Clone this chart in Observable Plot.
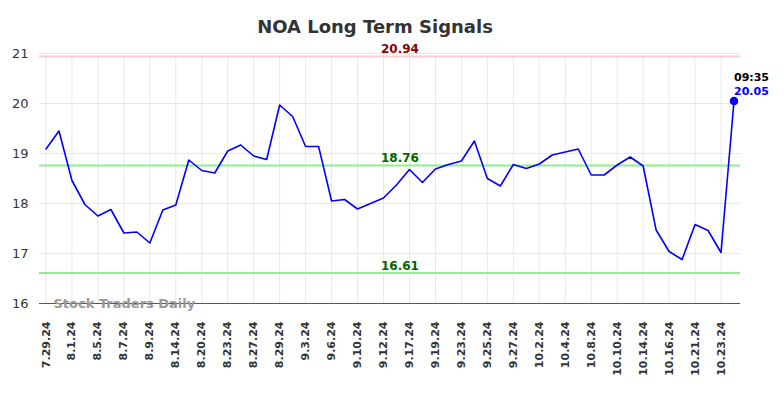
<!DOCTYPE html>
<html>
<head>
<meta charset="utf-8">
<script src="https://cdn.jsdelivr.net/npm/d3@7"></script>
<script src="https://cdn.jsdelivr.net/npm/@observablehq/plot@0.6"></script>
<style>
  html, body { margin: 0; padding: 0; background: #fff; }
  svg { font-family: "DejaVu Sans", sans-serif; }
</style>
</head>
<body>
<div id="chart"></div>
<script>
const dates = [
  "7.29.24","7.31.24","8.1.24","8.2.24","8.5.24","8.6.24","8.7.24","8.8.24","8.9.24","8.12.24",
  "8.14.24","8.16.24","8.20.24","8.22.24","8.23.24","8.26.24","8.27.24","8.28.24","8.29.24","8.30.24",
  "9.3.24","9.5.24","9.6.24","9.9.24","9.10.24","9.11.24","9.12.24","9.16.24","9.17.24","9.18.24",
  "9.19.24","9.20.24","9.23.24","9.24.24","9.25.24","9.26.24","9.27.24","10.1.24","10.2.24","10.3.24",
  "10.4.24","10.7.24","10.8.24","10.9.24","10.10.24","10.11.24","10.14.24","10.15.24","10.16.24","10.18.24",
  "10.21.24","10.22.24","10.23.24","10.24.24"
];
const prices = [
  19.09,19.45,18.46,17.98,17.75,17.88,17.41,17.43,17.21,17.87,
  17.97,18.87,18.66,18.61,19.05,19.17,18.95,18.88,19.97,19.74,
  19.14,19.14,18.05,18.08,17.89,18.00,18.11,18.37,18.68,18.42,
  18.69,18.78,18.85,19.25,18.50,18.35,18.78,18.70,18.79,18.97,
  19.03,19.09,18.57,18.57,18.77,18.93,18.75,17.47,17.04,16.88,
  17.58,17.46,17.02,20.05
];
const tickLabels = dates.filter((d, i) => i % 2 === 0);
const yTicks = [16, 17, 18, 19, 20, 21];
const levelValues = [20.94, 18.76, 16.61];
const levelLineColors = ["#ffcccc", "#90ee90", "#90ee90"];
const levelTextColors = ["#8b0000", "#006400", "#006400"];
const lastTime = "09:35";
const title = "NOA Long Term Signals";
const watermark = "Stock Traders Daily";

const series = dates.map((d, i) => ({date: d, price: prices[i]}));
const levels = levelValues.map((v, i) => ({v, line: levelLineColors[i], text: levelTextColors[i]}));
const last = series[series.length - 1];

const chart = Plot.plot({
  width: 784,
  height: 398,
  marginLeft: 39,
  marginRight: 44,
  marginTop: 53,
  marginBottom: 95,
  style: {fontFamily: "DejaVu Sans, sans-serif", background: "#fff"},
  x: {type: "point", domain: dates, padding: 0.5, label: null},
  y: {domain: [16, 21], label: null},
  marks: [
    Plot.ruleX(tickLabels, {x: d => d, stroke: "#e8e8e8", strokeWidth: 1}),
    Plot.ruleY(yTicks, {y: d => d, stroke: "#e8e8e8", strokeWidth: 1}),
    Plot.ruleY(levels, {y: "v", stroke: "line", strokeWidth: 2}),
    Plot.ruleY([16], {stroke: "#555", strokeWidth: 1}),
    Plot.text(levels, {y: "v", frameAnchor: "middle", dx: 10, dy: -7, text: d => d.v.toFixed(2), fill: "text", fontWeight: "bold", fontSize: 12}),
    Plot.lineY(series, {x: "date", y: "price", stroke: "#0000ff", strokeWidth: 1.6}),
    Plot.dot([last], {x: "date", y: "price", r: 3.5, fill: "#0000ff", stroke: "#0000ff"}),
    Plot.text([last], {x: "date", y: "price", text: () => lastTime, textAnchor: "start", dy: -24, dx: 0, fill: "#000", fontWeight: "bold", fontSize: 11}),
    Plot.text([last], {x: "date", y: "price", text: d => d.price.toFixed(2), textAnchor: "start", dy: -10, dx: 0, fill: "#0000ff", fontWeight: "bold", fontSize: 11}),
    Plot.text([watermark], {frameAnchor: "bottom-left", dx: 14, dy: 4, text: d => d, fill: "#999", fontWeight: "bold", fontSize: 13}),
    Plot.text([title], {frameAnchor: "top", dx: -15, dy: -33, text: d => d, fill: "#333", fontWeight: "bold", fontSize: 18}),
    Plot.axisY(yTicks, {tickSize: 0, tickPadding: 11, fontSize: 13, fill: "#333", tickFormat: d => String(d), label: null}),
    Plot.axisX(tickLabels, {tickSize: 0, tickRotate: -90, tickPadding: 18, fontSize: 11, fontWeight: "bold", fill: "#333", label: null})
  ]
});
document.getElementById("chart").appendChild(chart);
</script>
</body>
</html>
